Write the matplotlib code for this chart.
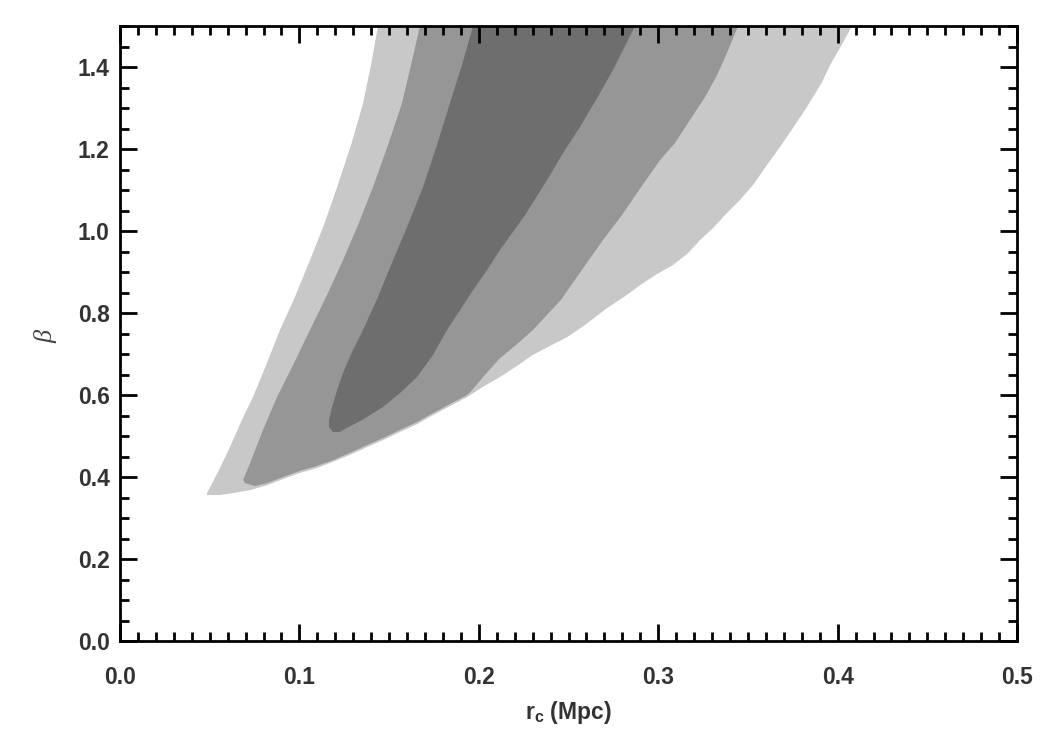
import numpy as np
import matplotlib
matplotlib.use("Agg")
import matplotlib.pyplot as plt
from matplotlib.ticker import MultipleLocator

plt.rcParams['font.family'] = ['Liberation Sans', 'DejaVu Sans']
plt.rcParams['mathtext.fontset'] = 'custom'
plt.rcParams['mathtext.rm'] = 'Liberation Sans:bold'
plt.rcParams['mathtext.bf'] = 'Liberation Sans:bold'
plt.rcParams['mathtext.it'] = 'Liberation Serif:italic'

# outer (lightest) confidence region: outline
outer_rc = [0.1438, 0.1399, 0.1355, 0.1288, 0.1210, 0.1137, 0.1059, 0.0975,
            0.0892, 0.0819, 0.0741, 0.0674, 0.0613, 0.0546, 0.0485, 0.0485,
            0.0557, 0.0630, 0.0725, 0.0819, 0.0909, 0.1003, 0.1098, 0.1187,
            0.1282, 0.1377, 0.1466, 0.1561, 0.1656, 0.1745, 0.1839, 0.1934,
            0.2023, 0.2118, 0.2213, 0.2302, 0.2397, 0.2492, 0.2592, 0.2715,
            0.2815, 0.2899, 0.2993, 0.3082, 0.3166, 0.3233, 0.3305, 0.3383,
            0.3456, 0.3528, 0.3606, 0.3679, 0.3763, 0.3818, 0.3863, 0.3913,
            0.3958, 0.4019, 0.4080]
outer_beta = [1.50, 1.405, 1.312, 1.210, 1.107, 1.015, 0.929, 0.839,
              0.759, 0.678, 0.595, 0.534, 0.473, 0.412, 0.361, 0.356,
              0.356, 0.361, 0.368, 0.380, 0.395, 0.410, 0.422, 0.437,
              0.454, 0.473, 0.490, 0.510, 0.529, 0.551, 0.573, 0.595,
              0.620, 0.644, 0.671, 0.698, 0.720, 0.741, 0.771, 0.812,
              0.841, 0.868, 0.895, 0.917, 0.946, 0.978, 1.007, 1.044,
              1.076, 1.112, 1.161, 1.205, 1.259, 1.295, 1.327, 1.363,
              1.405, 1.451, 1.50]

# middle region
mid_rc = [0.1672, 0.1622, 0.1572, 0.1494, 0.1410, 0.1327, 0.1243, 0.1154,
          0.1059, 0.0970, 0.0875, 0.0797, 0.0725, 0.0686, 0.0697, 0.0753,
          0.0819, 0.0909, 0.1003, 0.1098, 0.1187, 0.1282, 0.1377, 0.1466,
          0.1561, 0.1656, 0.1745, 0.1839, 0.1934, 0.1952, 0.2034, 0.2118,
          0.2213, 0.2302, 0.2458, 0.2547, 0.2692, 0.2798, 0.2893, 0.3010,
          0.3094, 0.3177, 0.3261, 0.3328, 0.3383, 0.3445]
mid_beta = [1.50, 1.405, 1.312, 1.210, 1.107, 1.015, 0.929, 0.844,
            0.759, 0.678, 0.595, 0.515, 0.434, 0.393, 0.385, 0.378,
            0.385, 0.400, 0.415, 0.427, 0.441, 0.459, 0.478, 0.495,
            0.515, 0.534, 0.556, 0.578, 0.600, 0.607, 0.649, 0.690,
            0.724, 0.759, 0.832, 0.888, 0.978, 1.039, 1.100, 1.173,
            1.215, 1.271, 1.327, 1.380, 1.434, 1.50]

# inner (darkest) region
inner_rc = [0.1968, 0.1906, 0.1839, 0.1767, 0.1689, 0.1605, 0.1522, 0.1438,
            0.1355, 0.1293, 0.1243, 0.1210, 0.1182, 0.1165, 0.1165, 0.1187,
            0.1226, 0.1265, 0.1349, 0.1466, 0.1561, 0.1656, 0.1745, 0.1823,
            0.1895, 0.1968, 0.2046, 0.2118, 0.2258, 0.2380, 0.2469, 0.2564,
            0.2659, 0.2748, 0.2809, 0.2871]
inner_beta = [1.50, 1.405, 1.312, 1.210, 1.107, 1.015, 0.929, 0.839,
              0.759, 0.705, 0.654, 0.612, 0.571, 0.539, 0.522, 0.510,
              0.510, 0.520, 0.539, 0.571, 0.605, 0.644, 0.698, 0.759,
              0.807, 0.856, 0.905, 0.954, 1.039, 1.124, 1.190, 1.254,
              1.324, 1.393, 1.446, 1.50]

fig = plt.figure(figsize=(10.5, 7.5), dpi=100)
ax = fig.add_axes([0.1143, 0.1453, 0.8543, 0.8200])

ax.fill(outer_rc, outer_beta, color='#c8c8c8', lw=0)
ax.fill(mid_rc, mid_beta, color='#969696', lw=0)
ax.fill(inner_rc, inner_beta, color='#6e6e6e', lw=0)

ax.set_xlim(0, 0.5)
ax.set_ylim(0, 1.5)

ax.xaxis.set_major_locator(MultipleLocator(0.1))
ax.xaxis.set_minor_locator(MultipleLocator(0.01))
ax.yaxis.set_major_locator(MultipleLocator(0.2))
ax.yaxis.set_minor_locator(MultipleLocator(0.05))
ax.xaxis.set_major_formatter(plt.FormatStrFormatter('%.1f'))
ax.yaxis.set_major_formatter(plt.FormatStrFormatter('%.1f'))

for s in ax.spines.values():
    s.set_linewidth(2.0)
ax.tick_params(which='both', direction='in', top=True, right=True, width=2.0, color='black')
ax.tick_params(which='major', length=12.5)
ax.tick_params(which='minor', length=6.5)
ax.tick_params(axis='x', which='major', pad=18)
ax.tick_params(axis='y', which='major', pad=7.5)
for lab in ax.get_xticklabels() + ax.get_yticklabels():
    lab.set_fontsize(16.5)
    lab.set_fontweight('bold')
    lab.set_color('#333333')

ax.set_xlabel(r'r$_{\mathbf{c}}$ (Mpc)', fontsize=16.5, fontweight='bold', color='#333333')
ax.xaxis.set_label_coords(0.4995, -0.116)
ax.xaxis.label.set_va('center')
ax.set_ylabel(r'$\beta$', fontsize=19, color='#444444')
ax.yaxis.set_label_coords(-0.0836, 0.4976)
ax.yaxis.label.set_va('center')

fig.savefig('out.png', dpi=100)
